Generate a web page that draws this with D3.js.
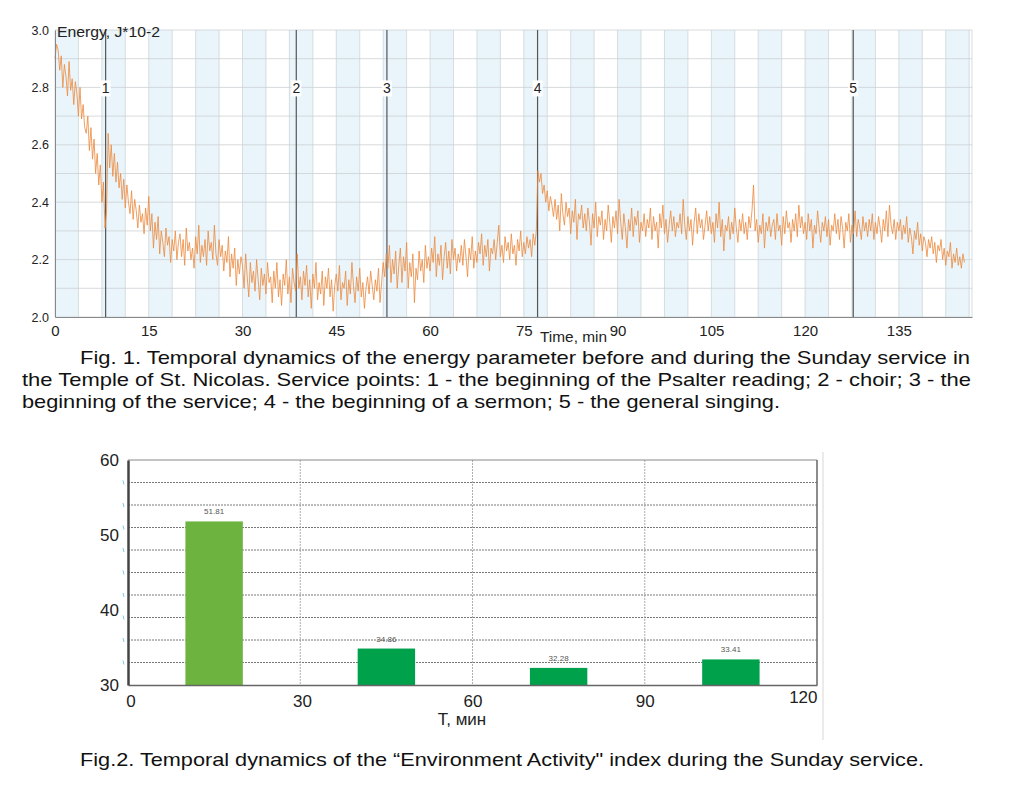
<!DOCTYPE html>
<html><head><meta charset="utf-8">
<script src="https://cdn.jsdelivr.net/npm/d3@7"></script>
<style>body{margin:0;background:#fff}svg{display:block}</style>
</head><body><svg id="c" width="1024" height="796"></svg>
<script>
// ---------- Fig.1 data ----------
const energyStep = 0.25; // minutes between samples
const energyValues = [
2.90,2.95,2.93,2.86,2.91,2.80,2.88,2.84,2.77,2.89,2.79,2.83,2.74,2.82,2.78,2.70,2.80,2.69,2.74,2.66,
2.64,2.70,2.58,2.66,2.55,2.62,2.50,2.57,2.46,2.53,2.40,2.47,2.31,2.37,2.64,2.52,2.60,2.49,2.57,2.47,
2.54,2.45,2.50,2.41,2.48,2.38,2.46,2.40,2.36,2.44,2.34,2.41,2.37,2.31,2.39,2.33,2.36,2.29,2.38,2.32,
2.42,2.30,2.36,2.24,2.33,2.27,2.35,2.22,2.30,2.26,2.21,2.31,2.25,2.28,2.19,2.27,2.23,2.30,2.20,2.26,
2.29,2.21,2.27,2.18,2.31,2.23,2.26,2.20,2.24,2.17,2.28,2.22,2.32,2.19,2.25,2.21,2.27,2.18,2.30,2.23,
2.26,2.20,2.32,2.22,2.18,2.27,2.21,2.25,2.16,2.23,2.19,2.28,2.14,2.22,2.17,2.24,2.11,2.20,2.15,2.21,
2.18,2.10,2.22,2.14,2.07,2.19,2.12,2.16,2.09,2.20,2.13,2.06,2.17,2.11,2.15,2.08,2.19,2.12,2.14,2.05,
2.16,2.10,2.19,2.07,2.13,2.04,2.15,2.11,2.20,2.08,2.14,2.05,2.17,2.12,2.09,2.22,2.10,2.14,2.06,2.16,
2.11,2.18,2.07,2.13,2.03,2.15,2.10,2.19,2.06,2.12,2.08,2.16,2.04,2.14,2.10,2.17,2.07,2.13,2.02,2.11,
2.15,2.09,2.18,2.06,2.12,2.10,2.16,2.04,2.13,2.08,2.19,2.11,2.05,2.14,2.09,2.17,2.07,2.12,2.03,2.10,
2.14,2.08,2.16,2.11,2.06,2.13,2.09,2.17,2.05,2.12,2.19,2.14,2.22,2.17,2.25,2.12,2.20,2.15,2.23,2.10,
2.18,2.24,2.12,2.21,2.16,2.26,2.10,2.19,2.14,2.22,2.05,2.17,2.13,2.23,2.16,2.20,2.12,2.25,2.17,2.21,
2.16,2.24,2.19,2.28,2.14,2.22,2.18,2.25,2.13,2.21,2.26,2.17,2.23,2.15,2.27,2.20,2.24,2.16,2.22,2.19,
2.25,2.18,2.27,2.21,2.14,2.24,2.20,2.28,2.17,2.23,2.19,2.26,2.22,2.29,2.18,2.25,2.21,2.27,2.16,2.24,
2.22,2.27,2.20,2.26,2.32,2.21,2.25,2.19,2.28,2.23,2.26,2.20,2.29,2.22,2.25,2.18,2.27,2.23,2.30,2.21,
2.26,2.22,2.28,2.24,2.27,2.21,2.29,2.25,2.30,2.51,2.47,2.50,2.43,2.46,2.40,2.44,2.37,2.42,2.39,2.35,
2.41,2.34,2.39,2.30,2.43,2.36,2.32,2.40,2.35,2.38,2.29,2.37,2.33,2.41,2.27,2.36,2.34,2.39,2.31,2.36,
2.30,2.38,2.33,2.25,2.36,2.31,2.40,2.28,2.35,2.32,2.37,2.27,2.34,2.30,2.39,2.33,2.26,2.35,2.31,2.37,
2.29,2.41,2.33,2.27,2.36,2.31,2.24,2.34,2.30,2.38,2.28,2.35,2.32,2.37,2.26,2.33,2.30,2.36,2.28,2.34,
2.31,2.38,2.27,2.35,2.30,2.33,2.24,2.36,2.31,2.39,2.29,2.34,2.26,2.32,2.37,2.30,2.35,2.28,2.33,2.31,
2.36,2.29,2.41,2.32,2.27,2.35,2.30,2.34,2.25,2.33,2.38,2.29,2.36,2.31,2.34,2.27,2.32,2.37,2.30,2.35,
2.29,2.33,2.26,2.36,2.31,2.40,2.28,2.34,2.23,2.32,2.30,2.35,2.27,2.33,2.29,2.38,2.31,2.26,2.34,2.30,
2.36,2.29,2.33,2.27,2.35,2.31,2.37,2.46,2.30,2.34,2.26,2.32,2.29,2.36,2.24,2.33,2.30,2.35,2.28,2.32,
2.34,2.27,2.36,2.30,2.32,2.25,2.35,2.29,2.37,2.31,2.33,2.26,2.34,2.30,2.36,2.28,2.39,2.31,2.35,2.29,
2.33,2.27,2.36,2.30,2.34,2.24,2.32,2.29,2.37,2.31,2.26,2.33,2.30,2.35,2.28,2.34,2.25,2.32,2.30,2.36,
2.29,2.34,2.27,2.35,2.31,2.24,2.33,2.30,2.36,2.26,2.32,2.29,2.37,2.28,2.34,2.31,2.27,2.35,2.30,2.33,
2.28,2.34,2.30,2.36,2.27,2.33,2.29,2.35,2.31,2.26,2.34,2.30,2.37,2.28,2.39,2.32,2.29,2.34,2.27,2.33,
2.30,2.34,2.27,2.32,2.29,2.35,2.26,2.31,2.28,2.22,2.30,2.27,2.33,2.25,2.29,2.23,2.28,2.26,2.21,2.27,
2.24,2.28,2.22,2.26,2.19,2.25,2.23,2.27,2.20,2.24,2.18,2.23,2.21,2.26,2.17,2.22,2.19,2.24,2.18,2.21,
2.17,2.22,2.19
];
const eventTimes = [8.1, 38.6, 53.1, 77.2, 127.7];
const eventLabels = ["1","2","3","4","5"];
const fig1XTicks = [0,15,30,45,60,75,90,105,120,135];
const fig1YTicks = [2.0,2.2,2.4,2.6,2.8,3.0];

// ---------- Fig.2 data ----------
const barStart = [10, 40, 70, 100];
const barEnd = [20, 50, 80, 110];
const barValues = [51.81, 34.86, 32.28, 33.41];
const barLabels = ["51.81","34.86","32.28","33.41"];
const barColors = ["#6db33f","#00a14b","#00a14b","#00a14b"];
const fig2XTicks = [0,30,60,90,120];
const fig2YTicks = [30,40,50,60];

const svg = d3.select("#c");
const font = "'Liberation Sans', Arial, Helvetica, sans-serif";

// ================= Fig 1 =================
const x1 = d3.scaleLinear().domain([0, 146.7]).range([55, 972]);
const y1 = d3.scaleLinear().domain([2.0, 3.0]).range([317, 30]);
const g1 = svg.append("g");

const bandW = 3.75;
const bands = d3.range(0, 146.7, bandW);
g1.selectAll("rect.band").data(bands).join("rect")
  .attr("x", d => x1(d)).attr("y", y1(3.0))
  .attr("width", d => x1(Math.min(d + bandW, 146.7)) - x1(d))
  .attr("height", y1(2.0) - y1(3.0))
  .attr("fill", (d, i) => i % 2 === 0 ? "#e9f5fa" : "#ffffff");

g1.selectAll("line.vg").data(bands.concat([146.7])).join("line")
  .attr("x1", d => x1(d)).attr("x2", d => x1(d))
  .attr("y1", y1(3.0)).attr("y2", y1(2.0))
  .attr("stroke", "#cdd5d9").attr("stroke-width", 0.8);
g1.selectAll("line.hg").data(d3.range(2.0, 3.05, 0.1)).join("line")
  .attr("x1", x1(0)).attr("x2", x1(146.7))
  .attr("y1", d => y1(d)).attr("y2", d => y1(d))
  .attr("stroke", "#cdd1d4").attr("stroke-width", 0.8);

g1.selectAll("line.ev").data(eventTimes).join("line")
  .attr("x1", d => x1(d)).attr("x2", d => x1(d))
  .attr("y1", y1(3.0)).attr("y2", y1(2.0))
  .attr("stroke", "#555").attr("stroke-width", 1.2);

const line1 = d3.line().x((d, i) => x1(i * energyStep)).y(d => y1(d));
g1.append("path").datum(energyValues).attr("d", line1)
  .attr("fill", "none").attr("stroke", "#ec8a3e").attr("stroke-width", 0.9)
  .attr("stroke-opacity", 0.9);

const evG = g1.selectAll("g.evl").data(eventTimes).join("g")
  .attr("transform", d => `translate(${x1(d)},${y1(2.8) + 1})`);
evG.append("rect").attr("x", -5).attr("y", -8).attr("width", 10).attr("height", 16).attr("fill", "#fff");
evG.append("text").text((d, i) => eventLabels[i])
  .attr("text-anchor", "middle").attr("dy", "0.35em")
  .attr("font-family", font).attr("font-size", 14).attr("fill", "#222");

const ax1 = d3.axisBottom(x1).tickValues(fig1XTicks).tickSize(0).tickPadding(8).tickFormat(d3.format("d"));
const ax1g = g1.append("g").attr("transform", `translate(0,${y1(2.0)})`).call(ax1);
ax1g.select(".domain").attr("stroke", "#888");
ax1g.selectAll("text").attr("font-family", font).attr("font-size", 15).attr("fill", "#222");

const ay1 = d3.axisLeft(y1).tickValues(fig1YTicks).tickSize(0).tickPadding(6).tickFormat(d3.format(".1f"));
const ay1g = g1.append("g").attr("transform", `translate(${x1(0)},0)`).call(ay1);
ay1g.select(".domain").attr("stroke", "#888");
ay1g.selectAll("text").attr("font-family", font).attr("font-size", 12.5).attr("fill", "#222");

g1.append("text").attr("x", 57).attr("y", 37).text("Energy, J*10-2")
  .attr("textLength", 103).attr("lengthAdjust", "spacingAndGlyphs")
  .attr("font-family", font).attr("font-size", 14).attr("fill", "#222");
g1.append("text").attr("x", 540).attr("y", 342).text("Time, min")
  .attr("textLength", 67).attr("lengthAdjust", "spacingAndGlyphs")
  .attr("font-family", font).attr("font-size", 14).attr("fill", "#222");

// caption 1
const cap1 = svg.append("text").attr("font-family", font).attr("font-size", 18.5).attr("fill", "#111");
cap1.append("tspan").attr("x", 80).attr("y", 364).attr("textLength", 890).attr("lengthAdjust", "spacingAndGlyphs")
  .text("Fig. 1. Temporal dynamics of the energy parameter before and during the Sunday service in");
cap1.append("tspan").attr("x", 22).attr("y", 386).attr("textLength", 949).attr("lengthAdjust", "spacingAndGlyphs")
  .text("the Temple of St. Nicolas. Service points: 1 - the beginning of the Psalter reading; 2 - choir; 3 - the");
cap1.append("tspan").attr("x", 22).attr("y", 408).attr("textLength", 758).attr("lengthAdjust", "spacingAndGlyphs")
  .text("beginning of the service; 4 - the beginning of a sermon; 5 - the general singing.");

// ================= Fig 2 =================
const x2 = d3.scaleLinear().domain([0, 120]).range([128, 817]);
const y2 = d3.scaleLinear().domain([30, 60]).range([685, 460]);
const g2 = svg.append("g");

g2.selectAll("line.hg2").data(d3.range(33, 60, 3)).join("line")
  .attr("x1", x2(0)).attr("x2", x2(120))
  .attr("y1", d => y2(d)).attr("y2", d => y2(d))
  .attr("stroke", "#555").attr("stroke-width", 0.8).attr("stroke-dasharray", "2,1");
g2.selectAll("line.vg2").data([30, 60, 90]).join("line")
  .attr("x1", d => x2(d)).attr("x2", d => x2(d))
  .attr("y1", y2(60)).attr("y2", y2(30))
  .attr("stroke", "#999").attr("stroke-width", 0.8).attr("stroke-dasharray", "2,1");
g2.selectAll("line.bt").data(d3.range(33, 60, 3)).join("line")
  .attr("x1", x2(0) - 5).attr("x2", x2(0) - 4)
  .attr("y1", d => y2(d) - 2).attr("y2", d => y2(d) + 2)
  .attr("stroke", "#7cc8e8").attr("stroke-width", 1);

g2.selectAll("rect.bar").data(barValues).join("rect")
  .attr("x", (d, i) => x2(barStart[i]))
  .attr("width", (d, i) => x2(barEnd[i]) - x2(barStart[i]))
  .attr("y", d => y2(d)).attr("height", d => y2(30) - y2(d))
  .attr("fill", (d, i) => barColors[i]);
g2.selectAll("text.bl").data(barValues).join("text")
  .attr("x", (d, i) => x2((barStart[i] + barEnd[i]) / 2))
  .attr("y", d => y2(d) - 7)
  .attr("text-anchor", "middle").text((d, i) => barLabels[i])
  .attr("font-family", font).attr("font-size", 8).attr("fill", "#555");

g2.append("line").attr("x1", x2(0)).attr("x2", x2(120)).attr("y1", y2(60)).attr("y2", y2(60)).attr("stroke", "#888");
g2.append("line").attr("x1", x2(120)).attr("x2", x2(120)).attr("y1", y2(60)).attr("y2", y2(30)).attr("stroke", "#666").attr("stroke-width", 1.5);

const ax2 = d3.axisBottom(x2).tickValues(fig2XTicks).tickSize(0).tickPadding(10).tickFormat(d3.format("d"));
const ax2g = g2.append("g").attr("transform", `translate(0,${y2(30)})`).call(ax2);
ax2g.select(".domain").attr("stroke", "#666").attr("stroke-width", 1.5);
ax2g.selectAll("text").attr("font-family", font).attr("font-size", 17).attr("fill", "#222")
  .attr("text-anchor", d => d === 120 ? "end" : "middle")
  .attr("dx", d => d === 0 ? "0.15em" : (d === 30 ? "0.1em" : "0"))
  .attr("dy", d => d === 120 ? "0.45em" : "0.71em");

const ay2 = d3.axisLeft(y2).tickValues(fig2YTicks).tickSize(0).tickPadding(9).tickFormat(d3.format("d"));
const ay2g = g2.append("g").attr("transform", `translate(${x2(0)},0)`).call(ay2);
ay2g.select(".domain").attr("stroke", "#444").attr("stroke-width", 2.5);
ay2g.selectAll("text").attr("font-family", font).attr("font-size", 17).attr("fill", "#222");

g2.append("text").attr("x", 462).attr("y", 725).attr("text-anchor", "middle").text("T, мин")
  .attr("font-family", font).attr("font-size", 17).attr("fill", "#222");

svg.append("line").attr("x1", 823).attr("x2", 823).attr("y1", 452).attr("y2", 740)
  .attr("stroke", "#e4e4e4").attr("stroke-width", 1.5);

svg.append("text").attr("x", 80).attr("y", 766)
  .attr("textLength", 844).attr("lengthAdjust", "spacingAndGlyphs")
  .text("Fig.2. Temporal dynamics of the “Environment Activity\" index during the Sunday service.")
  .attr("font-family", font).attr("font-size", 18.5).attr("fill", "#111");
</script></body></html>
